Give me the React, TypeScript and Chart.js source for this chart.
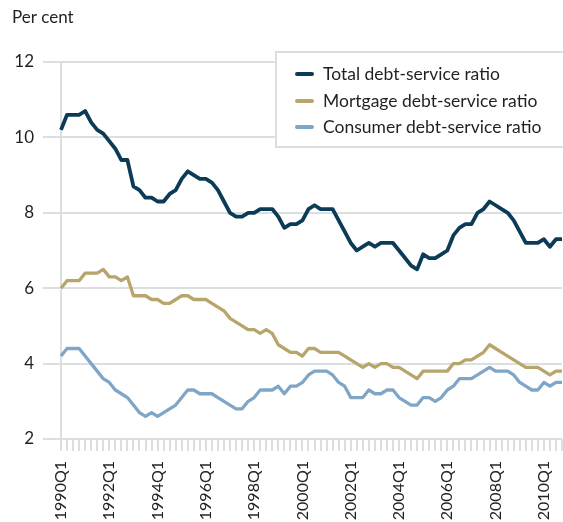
import React, { useEffect, useRef } from 'react';
import { Chart, registerables } from 'chart.js';

Chart.register(...registerables);

const startYear = 1990;
const endYear = 2010;
const quarters: string[] = [];
for (let y = startYear; y <= endYear; y++) {
  for (let q = 1; q <= 4; q++) quarters.push(`${y}Q${q}`);
}

const tickLabels = ['1990Q1', '1992Q1', '1994Q1', '1996Q1', '1998Q1', '2000Q1', '2002Q1', '2004Q1', '2006Q1', '2008Q1', '2010Q1'];

const unitLabel = 'Per cent';
const seriesNames = ['Total debt-service ratio', 'Mortgage debt-service ratio', 'Consumer debt-service ratio'];

const total = [
  10.2, 10.6, 10.6, 10.6, 10.7, 10.4, 10.2, 10.1, 9.9, 9.7,
  9.4, 9.4, 8.7, 8.6, 8.4, 8.4, 8.3, 8.3, 8.5, 8.6,
  8.9, 9.1, 9.0, 8.9, 8.9, 8.8, 8.6, 8.3, 8.0, 7.9,
  7.9, 8.0, 8.0, 8.1, 8.1, 8.1, 7.9, 7.6, 7.7, 7.7,
  7.8, 8.1, 8.2, 8.1, 8.1, 8.1, 7.8, 7.5, 7.2, 7.0,
  7.1, 7.2, 7.1, 7.2, 7.2, 7.2, 7.0, 6.8, 6.6, 6.5,
  6.9, 6.8, 6.8, 6.9, 7.0, 7.4, 7.6, 7.7, 7.7, 8.0,
  8.1, 8.3, 8.2, 8.1, 8.0, 7.8, 7.5, 7.2, 7.2, 7.2,
  7.3, 7.1, 7.3, 7.3,
];

const mortgage = [
  6.0, 6.2, 6.2, 6.2, 6.4, 6.4, 6.4, 6.5, 6.3, 6.3,
  6.2, 6.3, 5.8, 5.8, 5.8, 5.7, 5.7, 5.6, 5.6, 5.7,
  5.8, 5.8, 5.7, 5.7, 5.7, 5.6, 5.5, 5.4, 5.2, 5.1,
  5.0, 4.9, 4.9, 4.8, 4.9, 4.8, 4.5, 4.4, 4.3, 4.3,
  4.2, 4.4, 4.4, 4.3, 4.3, 4.3, 4.3, 4.2, 4.1, 4.0,
  3.9, 4.0, 3.9, 4.0, 4.0, 3.9, 3.9, 3.8, 3.7, 3.6,
  3.8, 3.8, 3.8, 3.8, 3.8, 4.0, 4.0, 4.1, 4.1, 4.2,
  4.3, 4.5, 4.4, 4.3, 4.2, 4.1, 4.0, 3.9, 3.9, 3.9,
  3.8, 3.7, 3.8, 3.8,
];

const consumer = [
  4.2, 4.4, 4.4, 4.4, 4.2, 4.0, 3.8, 3.6, 3.5, 3.3,
  3.2, 3.1, 2.9, 2.7, 2.6, 2.7, 2.6, 2.7, 2.8, 2.9,
  3.1, 3.3, 3.3, 3.2, 3.2, 3.2, 3.1, 3.0, 2.9, 2.8,
  2.8, 3.0, 3.1, 3.3, 3.3, 3.3, 3.4, 3.2, 3.4, 3.4,
  3.5, 3.7, 3.8, 3.8, 3.8, 3.7, 3.5, 3.4, 3.1, 3.1,
  3.1, 3.3, 3.2, 3.2, 3.3, 3.3, 3.1, 3.0, 2.9, 2.9,
  3.1, 3.1, 3.0, 3.1, 3.3, 3.4, 3.6, 3.6, 3.6, 3.7,
  3.8, 3.9, 3.8, 3.8, 3.8, 3.7, 3.5, 3.4, 3.3, 3.3,
  3.5, 3.4, 3.5, 3.5,
];

const colors = ['#0c3b58', '#b7a56c', '#7fa6c7'];
const lineWidths = [3.8, 3.3, 3.3];
const gridColor = '#dcdfe0';
const textColor = '#231f20';
const family = 'Lato, "Open Sans", sans-serif';

export default function App() {
  const ref = useRef<HTMLCanvasElement>(null);

  useEffect(() => {
    const canvas = ref.current;
    if (!canvas) return;

    const overlay = {
      id: 'overlay',
      afterDraw(chart: any) {
        const c = chart.ctx as CanvasRenderingContext2D;
        c.save();
        c.fillStyle = textColor;
        c.font = `17px ${family}`;
        c.textBaseline = 'middle';
        c.textAlign = 'left';
        c.fillText(unitLabel, 12, 18);

        // legend box
        c.fillStyle = '#ffffff';
        c.fillRect(276, 52, 300, 95);
        c.strokeStyle = gridColor;
        c.lineWidth = 2;
        c.strokeRect(276, 52, 300, 95);

        const ys = [74, 101, 127];
        chart.data.datasets.forEach((ds: any, i: number) => {
          c.strokeStyle = ds.borderColor;
          c.lineWidth = 4;
          c.lineCap = 'round';
          c.beginPath();
          c.moveTo(297, ys[i]);
          c.lineTo(312, ys[i]);
          c.stroke();
          c.fillStyle = textColor;
          c.font = `17.5px ${family}`;
          c.fillText(ds.label, 323, ys[i]);
        });
        c.restore();
      },
    };

    const chart = new Chart(canvas, {
      type: 'line',
      data: {
        labels: quarters,
        datasets: [total, mortgage, consumer].map((d, i) => ({
          label: seriesNames[i],
          data: d,
          borderColor: colors[i],
          backgroundColor: colors[i],
          borderWidth: lineWidths[i],
          pointRadius: 0,
          tension: 0,
          fill: false,
          borderJoinStyle: 'round' as const,
        })),
      },
      options: {
        animation: false,
        responsive: false,
        layout: { padding: { top: 62, right: 1, left: 0, bottom: 0 } },
        plugins: { legend: { display: false }, tooltip: { enabled: false } },
        scales: {
          x: {
            type: 'category',
            offset: false,
            grid: { drawOnChartArea: false, drawTicks: true, tickLength: 12, color: gridColor, lineWidth: 2 },
            border: { display: false },
            ticks: {
              autoSkip: false,
              maxRotation: 90,
              minRotation: 90,
              padding: 10,
              color: textColor,
              font: { family, size: 16 },
              callback: (_v: any, i: number) => (tickLabels.includes(quarters[i]) ? quarters[i] : ''),
            },
            afterFit: (s: any) => {
              s.height = 83;
              s.paddingRight = 0;
              s.paddingLeft = 0;
            },
          },
          y: {
            min: 2,
            max: 12,
            ticks: { stepSize: 2, padding: 9, color: textColor, font: { family, size: 17 } },
            grid: { color: gridColor, lineWidth: 2, tickLength: 18 },
            border: { display: true, color: gridColor, width: 2 },
            afterFit: (s: any) => {
              s.width = 61;
            },
          },
        },
      },
      plugins: [overlay],
    });

    return () => chart.destroy();
  }, []);

  return (
    <div style={{ position: 'absolute', left: 0, top: 0, width: 563, height: 522, background: '#fff' }}>
      <canvas ref={ref} width={563} height={522} style={{ width: 563, height: 522, display: 'block' }} />
    </div>
  );
}
